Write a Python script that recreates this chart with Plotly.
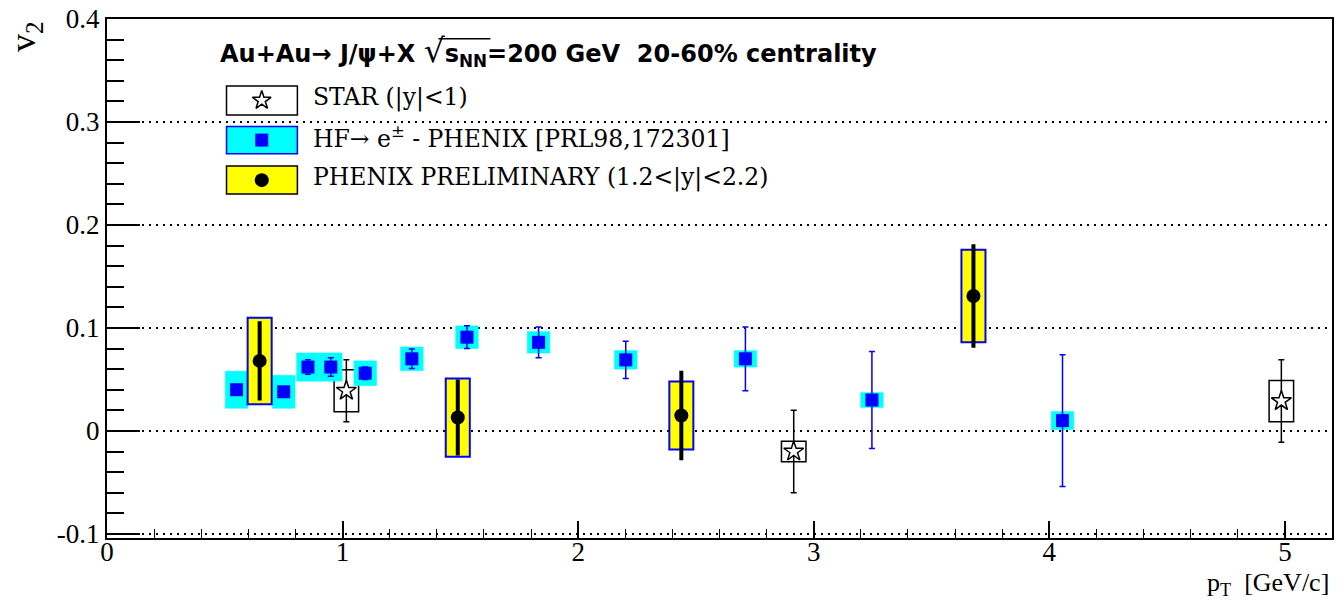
import plotly.graph_objects as go

# ---------------- data ----------------
# HF -> e (PHENIX PRL98,172301)
hf_pt = [0.55, 0.75, 0.853, 0.95, 1.096, 1.294, 1.528, 1.832, 2.202, 2.71, 3.247, 4.056]
hf_v2 = [0.040, 0.038, 0.062, 0.062, 0.056, 0.070, 0.091, 0.086, 0.069, 0.070, 0.030, 0.010]
hf_stat = [0.004, 0.005, 0.007, 0.009, 0.006, 0.0095, 0.011, 0.015, 0.018, 0.031, 0.047, 0.064]
hf_sys = [0.018, 0.016, 0.0137, 0.0137, 0.012, 0.0115, 0.011, 0.0104, 0.009, 0.008, 0.0072, 0.0088]

# PHENIX preliminary J/psi
ph_pt = [0.648, 1.489, 2.438, 3.678]
ph_v2 = [0.068, 0.013, 0.015, 0.131]
ph_stat = [0.0365, 0.035, 0.0415, 0.0484]
ph_sys = [0.042, 0.038, 0.033, 0.045]

# STAR J/psi
st_pt = [1.016, 2.915, 4.985]
st_v2 = [0.039, -0.020, 0.029]
st_stat = [0.030, 0.040, 0.040]
st_sys = [0.0205, 0.010, 0.020]

y_tickvals = [-0.1, 0, 0.1, 0.2, 0.3, 0.4]
y_ticktext = ["-0.1", "0", "0.1", "0.2", "0.3", "0.4"]
x_tickvals = [0, 1, 2, 3, 4, 5]
x_ticktext = ["0", "1", "2", "3", "4", "5"]

legend_labels = [
    "STAR (|y|&lt;1)",
    "HF\u2192 e<sup>\u00b1</sup> - PHENIX [PRL98,172301]",
    "PHENIX PRELIMINARY (1.2&lt;|y|&lt;2.2)",
]
header = ("<b>Au+Au\u2192 J/\u03c8+X <span style='font-size:33px;font-weight:normal'>\u221A</span>"
          "s<sub>NN</sub>=200 GeV\u00a0\u00a020-60% centrality</b>")

# ---------------- layout geometry (pixels) ----------------
W, H = 1338, 605
L, R, T, B = 107, 1334, 13, 538


def pxx(x):
    return (x - L) / (R - L)


def pxy(y):
    return (B - y) / (B - T)


SERIF = "DejaVu Serif"
TSERIF = "Liberation Serif"
SANS = "DejaVu Sans"

fig = go.Figure()
shapes = []

# systematic boxes: STAR (under), HF, PHENIX
hw_st, hw_hf, hw_ph = 0.052, 0.048, 0.051
for x, y, s in zip(st_pt, st_v2, st_sys):
    shapes.append(dict(type="rect", xref="x", yref="y", x0=x - hw_st, x1=x + hw_st,
                       y0=y - s, y1=y + s, line=dict(color="black", width=1.5),
                       fillcolor="rgba(0,0,0,0)", layer="between"))
for x, y, s in zip(hf_pt, hf_v2, hf_sys):
    shapes.append(dict(type="rect", xref="x", yref="y", x0=x - hw_hf, x1=x + hw_hf,
                       y0=y - s, y1=y + s, line=dict(color="#00ffff", width=0.5),
                       fillcolor="#00ffff", layer="between"))
for x, y, s in zip(ph_pt, ph_v2, ph_sys):
    shapes.append(dict(type="rect", xref="x", yref="y", x0=x - hw_ph, x1=x + hw_ph,
                       y0=y - s, y1=y + s, line=dict(color="#0000ff", width=2),
                       fillcolor="#ffff00", layer="between"))

# data traces
fig.add_trace(go.Scatter(
    x=st_pt, y=st_v2, mode="markers",
    error_y=dict(type="data", array=st_stat, color="black", thickness=1.5, width=3),
    marker=dict(symbol="star", size=15, color="white", line=dict(color="black", width=1.5)),
    showlegend=False, cliponaxis=False))
fig.add_trace(go.Scatter(
    x=hf_pt, y=hf_v2, mode="markers",
    error_y=dict(type="data", array=hf_stat, color="#0000ff", thickness=1.5, width=3),
    marker=dict(symbol="square", size=13, color="#0000ff", line=dict(width=0)),
    showlegend=False, cliponaxis=False))
fig.add_trace(go.Scatter(
    x=ph_pt, y=ph_v2, mode="markers",
    error_y=dict(type="data", array=ph_stat, color="black", thickness=4, width=2),
    marker=dict(symbol="circle", size=14, color="black", line=dict(width=0)),
    showlegend=False, cliponaxis=False))

# legend glyphs (overlay pixel axes)
leg_rows = [95.3, 135.5, 176.0]
leg_box_y = [(80.7, 110.0), (121.7, 149.3), (161.7, 190.0)]
leg_fill = ["white", "#00ffff", "#ffff00"]
leg_line = ["black", "#0000ff", "black"]
for (y0, y1), fc, lc in zip(leg_box_y, leg_fill, leg_line):
    shapes.append(dict(type="rect", xref="paper", yref="paper",
                       x0=pxx(226.7), x1=pxx(297.7), y0=pxy(y1), y1=pxy(y0),
                       line=dict(color=lc, width=1.5), fillcolor=fc, opacity=1,
                       layer="between"))

# overline of the square root in the header
shapes.append(dict(type="line", xref="paper", yref="paper",
                   x0=pxx(439), x1=pxx(491), y0=pxy(33), y1=pxy(33),
                   line=dict(color="black", width=1.5), layer="above"))

fig.add_trace(go.Scatter(
    x=[262, 262, 262], y=leg_rows, xaxis="x2", yaxis="y2", mode="markers",
    marker=dict(symbol=["star", "square", "circle"], size=[14, 13, 14],
                color=["white", "#0000ff", "#000000"], opacity=1,
                line=dict(color=["black", "#0000ff", "#000000"], width=[1.5, 0, 0])),
    showlegend=False, cliponaxis=False, hoverinfo="skip"))

annotations = []
for txt, y in zip(legend_labels, leg_rows):
    annotations.append(dict(text=txt, xref="paper", yref="paper", x=pxx(311), y=pxy(y - 2.5),
                            xanchor="left", yanchor="middle", showarrow=False,
                            font=dict(family=SERIF, size=23.5, color="black")))
annotations.append(dict(text=header, xref="paper", yref="paper", x=pxx(218), y=pxy(45),
                        xanchor="left", yanchor="middle", showarrow=False,
                        font=dict(family=SANS, size=24, color="black")))
# axis titles
annotations.append(dict(text="v<sub>2</sub>", xref="paper", yref="paper", x=pxx(26), y=pxy(31),
                        xanchor="center", yanchor="middle", showarrow=False, textangle=-90,
                        font=dict(family=TSERIF, size=36, color="black")))
annotations.append(dict(text="p<sub>T</sub>\u00a0\u00a0[GeV/c]", xref="paper", yref="paper",
                        x=pxx(1333), y=pxy(585), xanchor="right", yanchor="middle",
                        showarrow=False, font=dict(family=TSERIF, size=26, color="black")))

fig.update_layout(
    width=W, height=H,
    margin=dict(l=L, r=W - R, t=T, b=H - B),
    paper_bgcolor="white", plot_bgcolor="white",
    shapes=shapes, annotations=annotations,
    xaxis=dict(range=[0, 5.2], tickvals=x_tickvals, ticktext=x_ticktext,
               ticks="inside", ticklen=17, tickwidth=1.5, tickcolor="black",
               minor=dict(dtick=0.2, ticks="inside", ticklen=9, tickwidth=1, tickcolor="black"),
               showgrid=False, zeroline=False, showline=True, linewidth=2, linecolor="black",
               mirror=True, ticklabelstandoff=-11, ticklabeloverflow="allow",
               tickfont=dict(family=TSERIF, size=27, color="black")),
    yaxis=dict(range=[-0.104, 0.4], tickvals=y_tickvals, ticktext=y_ticktext,
               ticks="inside", ticklen=33, tickwidth=1.5, tickcolor="black",
               minor=dict(dtick=0.02, tick0=0, ticks="inside", ticklen=17, tickwidth=1.5,
                          tickcolor="black", showgrid=False),
               showgrid=True, gridcolor="black", griddash="2px,5px", gridwidth=1.5,
               zeroline=False, showline=True, linewidth=2, linecolor="black",
               mirror=True, ticklabeloverflow="allow",
               tickfont=dict(family=TSERIF, size=27, color="black")),
    xaxis2=dict(range=[L, R], overlaying="x", visible=False),
    yaxis2=dict(range=[B, T], overlaying="y", visible=False),
    hovermode=False,
)

fig.write_html("out.html")
